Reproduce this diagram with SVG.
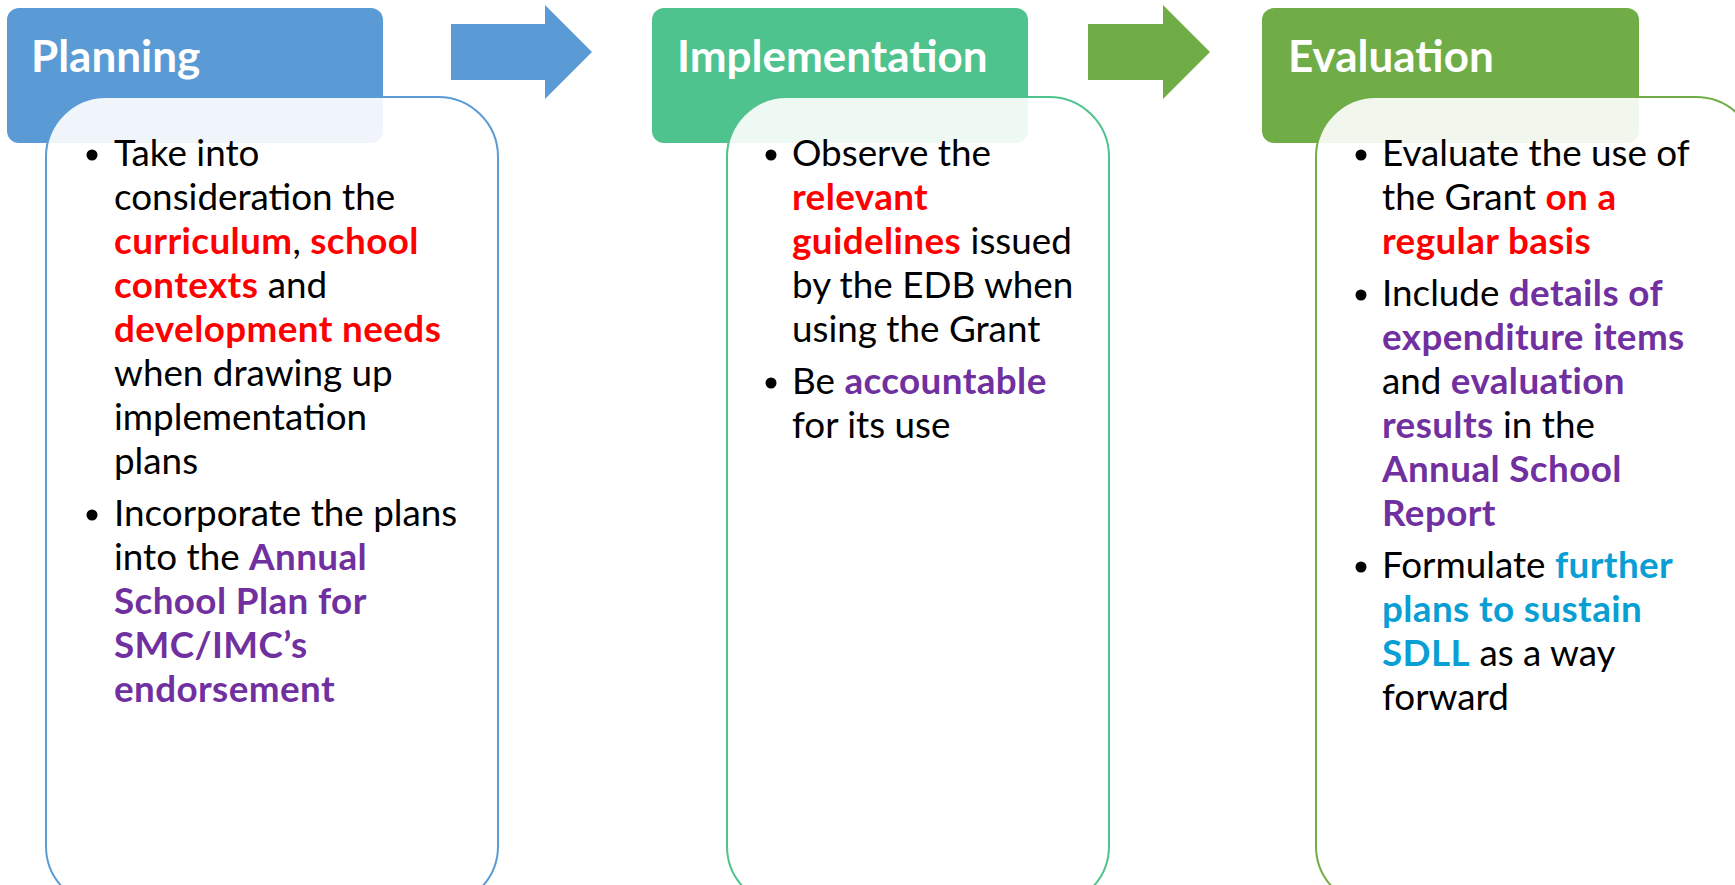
<svg xmlns="http://www.w3.org/2000/svg" width="1735" height="885" viewBox="0 0 1735 885">
<style>
.hd{font-family:Lato,"Open Sans","Liberation Sans",sans-serif;font-weight:bold;font-size:44px;fill:#fff}
.tx{font-family:Lato,"Open Sans","Liberation Sans",sans-serif;font-size:36.8px;fill:#000}
.r{fill:#FF0000;font-weight:bold;letter-spacing:0.4px}
.p{fill:#7030A0;font-weight:bold;letter-spacing:0.4px}
.c{fill:#0A9FD4;font-weight:bold;letter-spacing:0.4px}
.body{fill:#fff;fill-opacity:0.9;stroke-width:2}
</style>
<rect width="1735" height="885" fill="#fff"/>
<g id="connectors">
<polygon points="451,24 545,24 545,5 592,52 545,99 545,80 451,80" fill="#5B9BD5"/>
<polygon points="1088,24 1163,24 1163,5 1210,52 1163,99 1163,80 1088,80" fill="#70AD47"/>
</g>
<g id="planning">
<rect x="7" y="8" width="376" height="135" rx="12" fill="#5B9BD5"/>
<text class="hd" x="31" y="72">Planning</text>
<rect class="body" x="46" y="97" width="452" height="809" rx="60" stroke="#5B9BD5"/>
<g fill="#000"><circle cx="92" cy="155" r="5.5"/><circle cx="92" cy="515" r="5.5"/></g>
<text class="tx" x="114" y="166">Take into</text>
<text class="tx" x="114" y="210">consideration the</text>
<text class="tx" x="114" y="254"><tspan class="r">curriculum</tspan>, <tspan class="r">school</tspan></text>
<text class="tx" x="114" y="298"><tspan class="r">contexts</tspan> and</text>
<text class="tx" x="114" y="342"><tspan class="r">development needs</tspan></text>
<text class="tx" x="114" y="386">when drawing up</text>
<text class="tx" x="114" y="430">implementation</text>
<text class="tx" x="114" y="474">plans</text>
<text class="tx" x="114" y="526">Incorporate the plans</text>
<text class="tx" x="114" y="570">into the <tspan class="p">Annual</tspan></text>
<text class="tx" x="114" y="614"><tspan class="p">School Plan for</tspan></text>
<text class="tx" x="114" y="658"><tspan class="p">SMC/IMC’s</tspan></text>
<text class="tx" x="114" y="702"><tspan class="p">endorsement</tspan></text>
</g>
<g id="implementation">
<rect x="652" y="8" width="376" height="135" rx="12" fill="#4FC38E"/>
<text class="hd" x="677" y="72">Implementation</text>
<rect class="body" x="727" y="97" width="382" height="809" rx="60" stroke="#4FC38E"/>
<g fill="#000"><circle cx="771" cy="155" r="5.5"/><circle cx="771" cy="383" r="5.5"/></g>
<text class="tx" x="792" y="166">Observe the</text>
<text class="tx" x="792" y="210"><tspan class="r">relevant</tspan></text>
<text class="tx" x="792" y="254"><tspan class="r">guidelines</tspan> issued</text>
<text class="tx" x="792" y="298">by the EDB when</text>
<text class="tx" x="792" y="342">using the Grant</text>
<text class="tx" x="792" y="394">Be <tspan class="p">accountable</tspan></text>
<text class="tx" x="792" y="438">for its use</text>
</g>
<g id="evaluation">
<rect x="1262" y="8" width="377" height="135" rx="12" fill="#70AD47"/>
<text class="hd" x="1288" y="72">Evaluation</text>
<rect class="body" x="1316" y="97" width="440" height="809" rx="60" stroke="#70AD47"/>
<g fill="#000"><circle cx="1361" cy="155" r="5.5"/><circle cx="1361" cy="295" r="5.5"/><circle cx="1361" cy="567" r="5.5"/></g>
<text class="tx" x="1382" y="166">Evaluate the use of</text>
<text class="tx" x="1382" y="210">the Grant <tspan class="r">on a</tspan></text>
<text class="tx" x="1382" y="254"><tspan class="r">regular basis</tspan></text>
<text class="tx" x="1382" y="306">Include <tspan class="p">details of</tspan></text>
<text class="tx" x="1382" y="350"><tspan class="p">expenditure items</tspan></text>
<text class="tx" x="1382" y="394">and <tspan class="p">evaluation</tspan></text>
<text class="tx" x="1382" y="438"><tspan class="p">results</tspan> in the</text>
<text class="tx" x="1382" y="482"><tspan class="p">Annual School</tspan></text>
<text class="tx" x="1382" y="526"><tspan class="p">Report</tspan></text>
<text class="tx" x="1382" y="578">Formulate <tspan class="c">further</tspan></text>
<text class="tx" x="1382" y="622"><tspan class="c">plans to sustain</tspan></text>
<text class="tx" x="1382" y="666"><tspan class="c">SDLL</tspan> as a way</text>
<text class="tx" x="1382" y="710">forward</text>
</g>
</svg>
